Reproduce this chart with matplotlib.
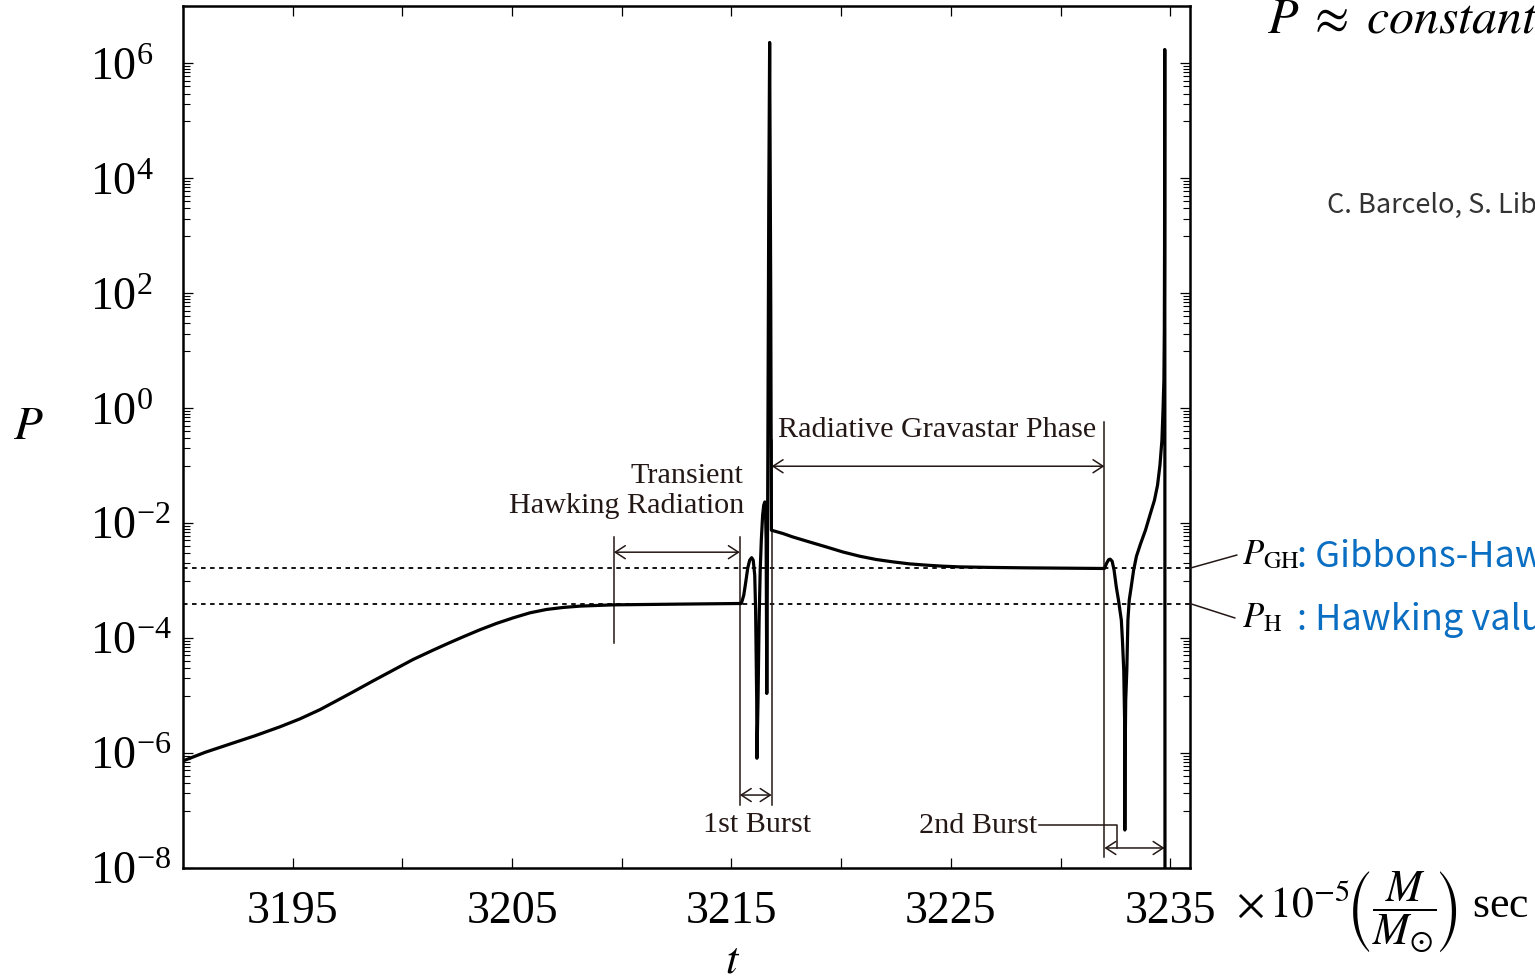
import numpy as np
import matplotlib.pyplot as plt
from matplotlib.ticker import FixedLocator, LogFormatterMathtext, NullFormatter

plt.rcParams['font.family'] = ['Liberation Serif', 'DejaVu Serif']
plt.rcParams['mathtext.fontset'] = 'stix'

# P(t): t in units of 1e-5 (M/Msun) sec, P as log10
t = [3190.01, 3191.00, 3192.14, 3193.28, 3194.42, 3195.33, 3196.24, 3197.00,
     3197.76, 3198.67, 3199.58, 3200.49, 3201.40, 3202.09, 3202.77, 3203.53,
     3204.29, 3205.05, 3205.81, 3206.57, 3207.33, 3208.09, 3209.60, 3212.64,
     3215.45,
     # 1st burst
     3215.56, 3215.65, 3215.74, 3215.83, 3215.92, 3215.99, 3216.06, 3216.10,
     3216.15, 3216.16, 3216.21, 3216.26, 3216.31, 3216.36, 3216.42, 3216.47,
     3216.52, 3216.55, 3216.58, 3216.61, 3216.65, 3216.70, 3216.74, 3216.79,
     3216.82,
     # radiative gravastar phase
     3217.35, 3217.80, 3218.56, 3219.33, 3220.08, 3220.84, 3221.60, 3222.36,
     3223.12, 3223.88, 3224.64, 3225.40, 3226.91, 3228.43, 3232.00,
     # 2nd burst
     3232.10, 3232.19, 3232.26, 3232.35, 3232.44, 3232.54, 3232.64, 3232.77,
     3232.82, 3232.88, 3232.92, 3232.93, 3232.94, 3232.97, 3233.02, 3233.07,
     3233.13, 3233.22, 3233.33, 3233.46, 3233.64, 3233.87, 3234.10, 3234.28,
     3234.42, 3234.53, 3234.62, 3234.67, 3234.71, 3234.73, 3234.74, 3234.75,
     3234.76]
log_p = [-6.135, -5.988, -5.843, -5.699, -5.543, -5.405, -5.245, -5.090,
         -4.934, -4.743, -4.557, -4.371, -4.209, -4.090, -3.977, -3.855,
         -3.744, -3.647, -3.560, -3.501, -3.466, -3.443, -3.421, -3.408,
         -3.397,
         -3.252, -3.026, -2.783, -2.643, -2.600, -2.643, -2.904, -3.513,
         -5.078, -6.090, -5.078, -3.687, -2.817, -2.296, -1.861, -1.687,
         -1.630, -1.774, -2.296, -4.962, -1.600, 3.617, 6.365, 1.878,
         -2.122,
         -2.180, -2.240, -2.327, -2.414, -2.501, -2.574, -2.632, -2.673,
         -2.708, -2.730, -2.748, -2.760, -2.770, -2.777, -2.788,
         -2.696, -2.635, -2.626, -2.661, -2.817, -3.108, -3.339, -3.687,
         -4.035, -4.557, -5.426, -7.339, -6.122, -5.078, -4.557, -3.687,
         -3.339, -3.108, -2.817, -2.574, -2.365, -2.122, -1.826, -1.600,
         -1.339, -0.991, -0.557, -0.035, 0.487, 1.357, 2.748, 6.243,
         -9.0]

P_H = 4.0e-4     # Hawking value
P_GH = 1.65e-3   # Gibbons-Hawking value

# phase boundaries
t_transient = 3209.64
t_burst1 = (3215.38, 3216.83)
t_burst2 = (3232.00, 3234.74)

x_ticks = [3195, 3200, 3205, 3210, 3215, 3220, 3225, 3230, 3235]
x_labels = ['3195', '', '3205', '', '3215', '', '3225', '', '3235']
y_major = [1e-8, 1e-6, 1e-4, 1e-2, 1e0, 1e2, 1e4, 1e6]

INK = '#231815'
BLUE = '#0A6EC2'
W, H = 1535, 980


def px(x, y):
    return x / W, 1 - y / H


fig = plt.figure(figsize=(W / 100, H / 100), dpi=100, facecolor='white')
ax = fig.add_axes([183 / W, 1 - 868 / H, (1190 - 183) / W, (868 - 6) / H])

ax.plot(t, 10 ** np.array(log_p), color='black', lw=2.3, zorder=5)
ax.axhline(P_GH, color='black', lw=1.3, ls=(0, (2.5, 2.5)), zorder=3)
ax.axhline(P_H, color='black', lw=1.3, ls=(0, (2.5, 2.5)), zorder=3)

ax.set_yscale('log')
ax.set_xlim(3190, 3235.9)
ax.set_ylim(1e-8, 1e7)

ax.set_xticks(x_ticks)
ax.set_xticklabels(x_labels, fontsize=33)
ax.yaxis.set_major_locator(FixedLocator(y_major))
ax.yaxis.set_major_formatter(LogFormatterMathtext())
ax.yaxis.set_minor_locator(FixedLocator(
    [k * 10.0 ** e for e in (-7, -5, -3, -1, 1, 3, 5) for k in range(1, 10)]))
ax.yaxis.set_minor_formatter(NullFormatter())
ax.tick_params(which='both', direction='in', top=True, right=True, color='black')
ax.tick_params(which='major', length=7.5, width=0.9)
ax.tick_params(which='minor', length=5, width=0.8)
ax.tick_params(axis='x', pad=16)
ax.tick_params(axis='y', labelsize=33, pad=67)
for lab in ax.get_yticklabels():
    lab.set_horizontalalignment('left')
for s in ax.spines.values():
    s.set_linewidth(1.8)


def vline(x, y0, y1):
    ax.plot([x, x], [y0, y1], color=INK, lw=1.1, zorder=4)


def span(x0, x1, y):
    ax.annotate('', xy=(x0, y), xytext=(x1, y),
                arrowprops=dict(arrowstyle='<->,head_length=0.4,head_width=0.26',
                                color=INK, lw=1.1, shrinkA=0, shrinkB=0,
                                mutation_scale=18), zorder=4)


txt = dict(fontsize=21.7, color=INK)

# transient Hawking radiation
vline(t_transient, 8.2e-5, 5.7e-3)
vline(t_burst1[0], 1.25e-7, 5.7e-3)
span(t_transient, t_burst1[0], 3.13e-3)
ax.text(t_burst1[0] + 0.18, 0.036, 'Transient\nHawking Radiation', ha='right',
        va='center', multialignment='right', linespacing=1.2, **txt)

# 1st burst
vline(t_burst1[1], 1.25e-7, 0.28)
span(t_burst1[0], t_burst1[1], 1.86e-7)
ax.text(3216.15, 5.6e-8, '1st Burst', ha='center', va='center', **txt)

# radiative gravastar phase
vline(t_burst2[0], 1.55e-8, 0.57)
span(t_burst1[1], t_burst2[0], 0.098)
ax.text(3224.35, 0.42, 'Radiative Gravastar Phase', ha='center', va='center', **txt)

# 2nd burst
span(t_burst2[0], t_burst2[1], 2.23e-8)
ax.plot([3229.0, 3232.55, 3232.55], [5.6e-8, 5.6e-8, 2.23e-8], color=INK, lw=1.1, zorder=4)
ax.text(3228.95, 5.4e-8, '2nd Burst', ha='right', va='center', **txt)

# reference levels on the right
for level, (lx, ly), name, desc in [(P_GH, (1237, 555), r'$P_{\rm GH}$', ': Gibbons-Hawking value'),
                                    (P_H, (1235, 618), r'$P_{\rm H}$', ': Hawking value')]:
    ax.annotate('', xy=(1.0, level), xycoords=('axes fraction', 'data'),
                xytext=px(lx, ly), textcoords='figure fraction',
                arrowprops=dict(arrowstyle='-', color=INK, lw=1.1,
                                shrinkA=0, shrinkB=0), annotation_clip=False)
    fig.text(*px(1242, ly + 1), name, fontsize=25, ha='left', va='center')
    fig.text(*px(1297, ly + 2), desc, fontsize=26, color=BLUE, ha='left', va='center',
             family=['Noto Sans CJK JP', 'DejaVu Sans'])

fig.text(*px(1267, 20), r'$P\;\approx\;constant$', fontsize=36, ha='left', va='center')
fig.text(*px(1327, 205), 'C. Barcelo, S. Liberati', fontsize=19.5, color='#333333',
         ha='left', va='center', family=['Noto Sans CJK JP', 'DejaVu Sans'])

# axis labels
fig.text(*px(28, 428), r'$P$', fontsize=34, ha='center', va='center')
fig.text(*px(733, 961), r'$t$', fontsize=32, ha='center', va='center')
fig.text(*px(1236, 912),
         r'$\times\,10^{-5}\!\left(\dfrac{M}{M_{\odot}}\!\right)$ sec',
         fontsize=31.5, ha='left', va='center')

fig.savefig('out.png', dpi=100, facecolor='white')
